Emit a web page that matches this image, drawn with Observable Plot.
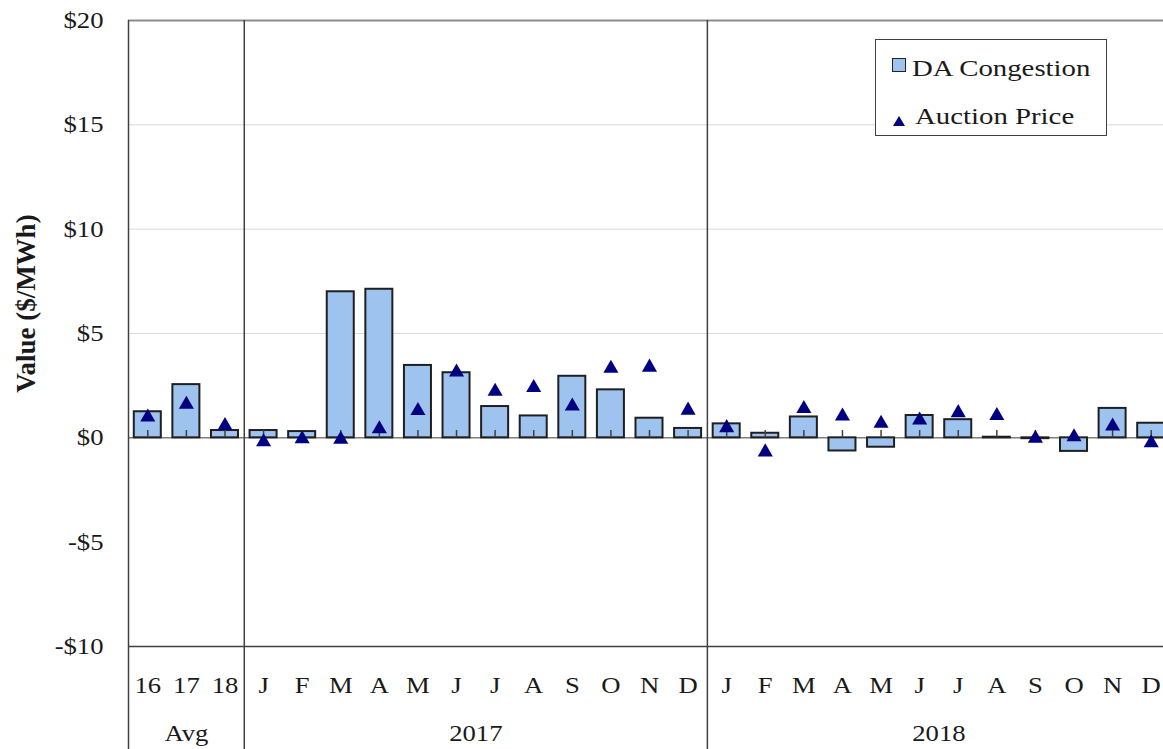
<!DOCTYPE html>
<html>
<head>
<meta charset="utf-8">
<script src="https://cdn.jsdelivr.net/npm/d3@7"></script>
<script src="https://cdn.jsdelivr.net/npm/@observablehq/plot@0.6"></script>
<style>
  body { margin: 0; background: #fff; overflow: hidden; }
  #wrap { position: relative; width: 1163px; height: 749px; overflow: hidden; }
  #legend { position: absolute; left: 875px; top: 39px; width: 232px; height: 97px;
            border: 1px solid #404040; background: #fff; box-sizing: border-box;
            font-family: "Liberation Serif", serif; font-size: 24px; color: #1a1a1a; }
  #legend .lbl { position: absolute; line-height: 24px; white-space: nowrap;
                 display: inline-block; transform: scaleX(1.2); transform-origin: left center; }
  #legend .sq { position: absolute; left: 16px; top: 18px; width: 14px; height: 14px;
                background: #9DC3EE; border: 1.5px solid #222; box-sizing: border-box; }
  #legend svg.tri { position: absolute; left: 17px; top: 76px; }
</style>
</head>
<body>
<div id="wrap">
  <div id="chart"></div>
  <div id="legend">
    <div class="sq"></div>
    <span class="lbl" style="left:36px;top:16px">DA Congestion</span>
    <svg class="tri" width="12" height="10"><polygon points="6,0 12,10 0,10" fill="#000080"/></svg>
    <span class="lbl" style="left:39px;top:64px">Auction Price</span>
  </div>
</div>
<script>
// ---- data ----
const groups = ["Avg", "2017", "2018"];
const categories = ["16","17","18",
  "J","F","M","A","M","J","J","A","S","O","N","D",
  "J","F","M","A","M","J","J","A","S","O","N","D"];
const categoryGroup = ["Avg","Avg","Avg",
  "2017","2017","2017","2017","2017","2017","2017","2017","2017","2017","2017","2017",
  "2018","2018","2018","2018","2018","2018","2018","2018","2018","2018","2018","2018"];
const daCongestion = [1.25, 2.55, 0.35,
  0.35, 0.3, 7.0, 7.12, 3.47, 3.12, 1.5, 1.05, 2.95, 2.3, 0.94, 0.45,
  0.67, 0.22, 1.0, -0.63, -0.45, 1.07, 0.87, 0.03, -0.04, -0.65, 1.41, 0.7];
const auctionPrice = [0.99, 1.6, 0.58,
  -0.2, -0.05, -0.08, 0.43, 1.3, 3.15, 2.22, 2.4, 1.52, 3.33, 3.38, 1.32,
  0.48, -0.68, 1.4, 1.04, 0.69, 0.85, 1.2, 1.06, -0.03, 0.04, 0.56, -0.24];
const yTicks = [-10, -5, 0, 5, 10, 15, 20];
const gridLines = [5, 10, 15];

// ---- derived tables ----
const rows = categories.map((c, i) => ({
  i, label: c, group: categoryGroup[i], cong: daCongestion[i], auction: auctionPrice[i]
}));
const groupRows = groups.map(g => {
  const idx = rows.filter(r => r.group === g).map(r => r.i);
  return { name: g, start: d3.min(idx), mid: (d3.min(idx) + d3.max(idx) + 1) / 2 };
});
const boundaries = groupRows.map(g => g.start);
const n = categories.length;
const yMin = d3.min(yTicks), yMax = d3.max(yTicks);
const fmt = d => d < 0 ? "-$" + (-d) : "$" + d;

const chart = Plot.plot({
  width: 1163,
  height: 749,
  marginLeft: 128,
  marginRight: 0,
  marginTop: 20,
  marginBottom: 103,
  style: { fontFamily: "Liberation Serif, serif", fontSize: "23px", color: "#1a1a1a", background: "#fff" },
  x: { type: "linear", domain: [0, n], range: [128, 1170], axis: null },
  y: { domain: [yMin, yMax], axis: null },
  marks: [
    Plot.ruleY(gridLines, { stroke: "#d9d9d9", strokeWidth: 1 }),
    Plot.ruleY([yMax], { stroke: "#8c8c8c", strokeWidth: 2 }),
    Plot.ruleY([0], { stroke: "#7f7f7f", strokeWidth: 1.5 }),
    Plot.rect(rows, {
      x1: d => d.i + 0.15, x2: d => d.i + 0.85, y1: 0, y2: "cong",
      fill: "#9DC3EE", stroke: "#1f1f1f", strokeWidth: 2
    }),
    Plot.ruleX(rows, { x: d => d.i + 0.5, y1: 0, y2: 0.35, stroke: "#404040", strokeWidth: 1.5 }),
    Plot.ruleY([yMin], { stroke: "#404040", strokeWidth: 1.5 }),
    Plot.ruleX(boundaries, { y1: yMax, y2: yMin - 5, stroke: "#404040", strokeWidth: 1.5 }),
    Plot.dot(rows, {
      x: d => d.i + 0.5, y: "auction", symbol: "triangle", r: 5.6,
      fill: "#000080", stroke: "none"
    }),
    Plot.text(rows, { x: d => d.i + 0.5, y: yMin, text: "label", dy: 39, fontSize: 23 }),
    Plot.text(groupRows, { x: "mid", y: yMin, text: "name", dy: 87, fontSize: 23 }),
    Plot.axisY(yTicks, { tickSize: 0, tickPadding: 25, tickFormat: fmt, fontSize: 23, label: null }),
    Plot.text(["Value ($/MWh)"], {
      frameAnchor: "left", textAnchor: "middle", dx: -102, dy: -30, rotate: -90,
      fontWeight: "bold", fontSize: 27
    })
  ]
});

// Horizontal text in the reference is slightly wider than Times metrics.
chart.querySelectorAll("text").forEach(t => {
  const tr = t.getAttribute("transform") || "";
  if (!/rotate/.test(tr)) t.setAttribute("transform", (tr + " scale(1.16,1)").trim());
});

document.getElementById("chart").appendChild(chart);
</script>
</body>
</html>
